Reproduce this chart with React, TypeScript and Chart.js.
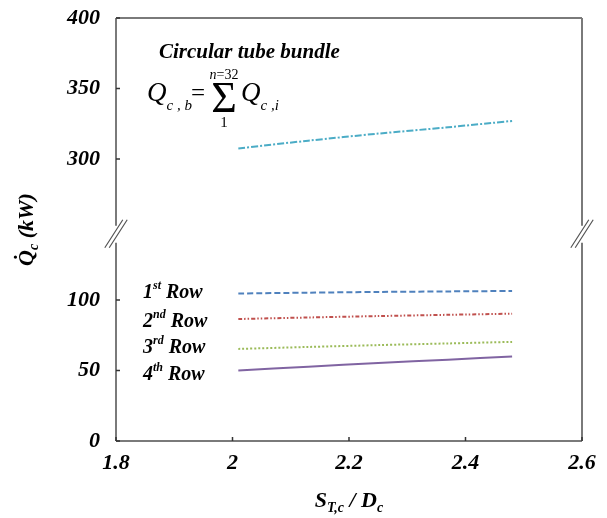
import React, { useEffect, useRef } from 'react';
import { Chart, registerables } from 'chart.js';

Chart.register(...registerables);

// ---- data ----
const xValues = [2.01, 2.13, 2.25, 2.37, 2.48];
const bundleTotal = [307.5, 313.0, 318.0, 322.5, 327.0];
const row1 = [104.6, 105.2, 105.7, 106.1, 106.4];
const row2 = [86.5, 87.6, 88.6, 89.5, 90.3];
const row3 = [65.3, 66.7, 68.0, 69.2, 70.3];
const row4 = [50.0, 52.7, 55.3, 57.7, 59.9];

const xTicks = [1.8, 2, 2.2, 2.4, 2.6];
const yLowTicks = [0, 50, 100];
const yHighTicks = [300, 350, 400];
const yLowRange = [0, 147];
const yHighRange = [247, 400];

const SERIF = '"Liberation Serif", "Times New Roman", serif';

type Part = { t: string; font: string; dy?: number; color?: string };

function drawParts(ctx: CanvasRenderingContext2D, x: number, y: number, parts: Part[], align: 'left' | 'center' = 'left') {
  let total = 0;
  for (const p of parts) {
    ctx.font = p.font;
    total += ctx.measureText(p.t).width;
  }
  let cx = align === 'center' ? x - total / 2 : x;
  ctx.textBaseline = 'alphabetic';
  ctx.textAlign = 'left';
  for (const p of parts) {
    ctx.font = p.font;
    ctx.fillStyle = p.color || '#000';
    ctx.fillText(p.t, cx, y + (p.dy || 0));
    cx += ctx.measureText(p.t).width;
  }
}

const BI = (s: number) => `italic bold ${s}px ${SERIF}`;
const IT = (s: number) => `italic ${s}px ${SERIF}`;
const RG = (s: number) => `${s}px ${SERIF}`;

const decorPlugin = {
  id: 'decor',
  afterDraw(chart: any) {
    const ctx: CanvasRenderingContext2D = chart.ctx;
    const { left, right, top, bottom } = chart.chartArea;
    const breakY = chart.scales.y.top;
    ctx.save();
    // frame
    ctx.strokeStyle = '#7a7a7a';
    ctx.lineWidth = 2;
    ctx.beginPath();
    ctx.moveTo(left, top); ctx.lineTo(right, top);
    ctx.moveTo(left, bottom); ctx.lineTo(right, bottom);
    for (const xx of [left, right]) {
      ctx.moveTo(xx, top); ctx.lineTo(xx, breakY - 8);
      ctx.moveTo(xx, breakY + 9); ctx.lineTo(xx, bottom);
    }
    ctx.stroke();
    // break marks
    ctx.strokeStyle = '#555';
    ctx.lineWidth = 1.2;
    ctx.beginPath();
    for (const xx of [left, right]) {
      for (const off of [-2.2, 2.2]) {
        ctx.moveTo(xx - 9 + off, breakY + 14);
        ctx.lineTo(xx + 9 + off, breakY - 14);
      }
    }
    ctx.stroke();
    // inward tick marks
    ctx.strokeStyle = '#333';
    ctx.lineWidth = 1.5;
    ctx.beginPath();
    const xs = chart.scales.x;
    for (const v of xTicks) {
      const px = xs.getPixelForValue(v);
      ctx.moveTo(px, bottom); ctx.lineTo(px, bottom - 4);
    }
    for (const v of yLowTicks) {
      const py = chart.scales.y.getPixelForValue(v);
      ctx.moveTo(left, py); ctx.lineTo(left + 4, py);
    }
    for (const v of yHighTicks) {
      const py = chart.scales.yTop.getPixelForValue(v);
      ctx.moveTo(left, py); ctx.lineTo(left + 4, py);
    }
    ctx.stroke();

    // annotations
    drawParts(ctx, 159, 58, [{ t: 'Circular tube bundle', font: BI(21) }]);
    drawParts(ctx, 147, 101, [
      { t: 'Q', font: IT(27) },
      { t: 'c , b', font: IT(15), dy: 9 },
    ]);
    drawParts(ctx, 191, 101, [{ t: '=', font: RG(25) }]);
    drawParts(ctx, 224, 112, [{ t: 'Σ', font: RG(44) }], 'center');
    drawParts(ctx, 224, 79, [{ t: 'n', font: IT(14) }, { t: '=32', font: RG(14) }], 'center');
    drawParts(ctx, 224, 127, [{ t: '1', font: RG(15) }], 'center');
    drawParts(ctx, 241, 101, [
      { t: 'Q', font: IT(27) },
      { t: 'c ,i', font: IT(15), dy: 9 },
    ]);

    const rows: [string, string, number][] = [
      ['1', 'st', 298],
      ['2', 'nd', 327],
      ['3', 'rd', 353],
      ['4', 'th', 380],
    ];
    for (const [n, s, by] of rows) {
      drawParts(ctx, 143, by, [
        { t: n, font: BI(20) },
        { t: s, font: BI(12), dy: -9 },
        { t: ' Row', font: BI(20) },
      ]);
    }

    // x title
    drawParts(ctx, (left + right) / 2, 507, [
      { t: 'S', font: BI(22) },
      { t: 'T,c', font: BI(14), dy: 5 },
      { t: ' / D', font: BI(22) },
      { t: 'c', font: BI(14), dy: 5 },
    ], 'center');

    // y title
    ctx.save();
    ctx.translate(33, (top + bottom) / 2);
    ctx.rotate(-Math.PI / 2);
    drawParts(ctx, 0, 0, [
      { t: 'Q\u0307', font: BI(22) },
      { t: 'c', font: BI(14), dy: 5 },
      { t: ' (kW)', font: BI(22) },
    ], 'center');
    ctx.restore();

    ctx.restore();
  },
};

function mk(label: string, data: number[], color: string, dash: number[], axis: string) {
  return {
    label,
    data: xValues.map((x, i) => ({ x, y: data[i] })),
    borderColor: color,
    backgroundColor: color,
    borderWidth: 2,
    borderDash: dash,
    pointRadius: 0,
    tension: 0.3,
    yAxisID: axis,
    fill: false,
  };
}

export default function App() {
  const ref = useRef<HTMLCanvasElement | null>(null);
  useEffect(() => {
    if (!ref.current) return;
    const tickFont = { family: SERIF, size: 22, weight: 'bold' as const, style: 'italic' as const };
    const chart = new Chart(ref.current, {
      type: 'line',
      data: {
        datasets: [
          mk('Bundle', bundleTotal, '#4BACC6', [7, 2, 2, 2], 'yTop'),
          mk('1st Row', row1, '#4F81BD', [6, 3], 'y'),
          mk('2nd Row', row2, '#C0504D', [4, 2, 1.5, 2, 1.5, 2], 'y'),
          mk('3rd Row', row3, '#9BBB59', [2, 2], 'y'),
          mk('4th Row', row4, '#8064A2', [], 'y'),
        ],
      },
      options: {
        animation: false,
        responsive: true,
        maintainAspectRatio: false,
        layout: { padding: { top: 18, right: 25, left: 0, bottom: 0 } },
        plugins: { legend: { display: false }, tooltip: { enabled: false } },
        scales: {
          x: {
            type: 'linear',
            min: xTicks[0],
            max: xTicks[xTicks.length - 1],
            grid: { display: false },
            border: { display: false },
            afterBuildTicks: (s: any) => { s.ticks = xTicks.map((v) => ({ value: v })); },
            afterFit: (s: any) => { s.height = 77; },
            ticks: { font: tickFont, color: '#000', padding: 1, callback: (v: any) => String(v) },
          },
          y: {
            type: 'linear',
            position: 'left',
            stack: 'brk',
            stackWeight: yLowRange[1] - yLowRange[0],
            min: yLowRange[0],
            max: yLowRange[1],
            grid: { display: false },
            border: { display: false },
            afterBuildTicks: (s: any) => { s.ticks = yLowTicks.map((v) => ({ value: v })); },
            afterFit: (s: any) => { s.width = 116; s.paddingTop = 0; s.paddingBottom = 0; },
            ticks: { font: tickFont, color: '#000', padding: 8 },
          },
          yTop: {
            type: 'linear',
            position: 'left',
            stack: 'brk',
            stackWeight: yHighRange[1] - yHighRange[0],
            min: yHighRange[0],
            max: yHighRange[1],
            grid: { display: false },
            border: { display: false },
            afterBuildTicks: (s: any) => { s.ticks = yHighTicks.map((v) => ({ value: v })); },
            afterFit: (s: any) => { s.width = 116; s.paddingTop = 0; s.paddingBottom = 0; },
            ticks: { font: tickFont, color: '#000', padding: 8 },
          },
        },
      } as any,
      plugins: [decorPlugin],
    });
    return () => chart.destroy();
  }, []);
  return (
    <div style={{ position: 'fixed', left: 0, top: 0, width: 607, height: 518, background: '#fff' }}>
      <canvas ref={ref} />
    </div>
  );
}
